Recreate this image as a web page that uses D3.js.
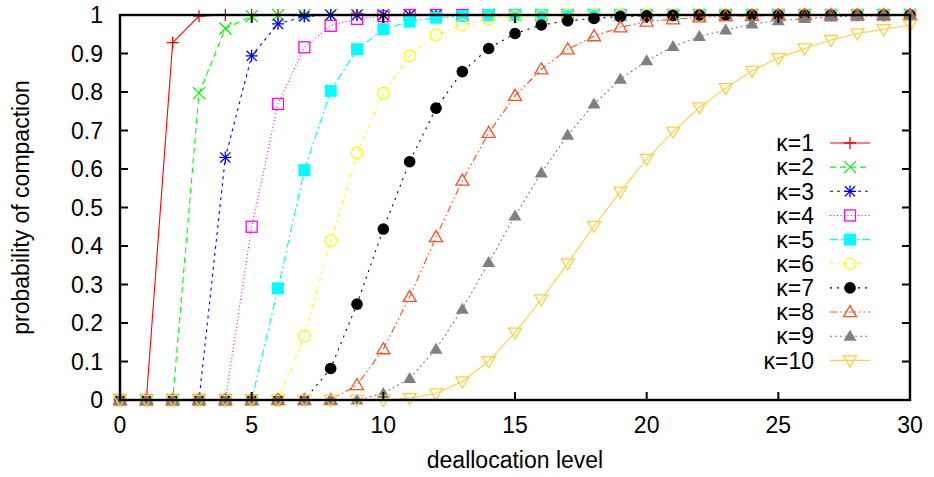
<!DOCTYPE html>
<html>
<head>
<meta charset="utf-8">
<script src="https://cdn.jsdelivr.net/npm/d3@7"></script>
<style>
  html, body { margin: 0; padding: 0; background: #fff; }
  svg { display: block; }
  text { font-family: "Liberation Sans", Arial, Helvetica, sans-serif; fill: #000; }
</style>
</head>
<body>
<svg id="chart" width="934" height="477"></svg>
<script>
// ---- data ----
const xLevels = d3.range(0, 31);
const xTickLabels = ["0", "5", "10", "15", "20", "25", "30"];
const yTickLabels = ["0", "0.1", "0.2", "0.3", "0.4", "0.5", "0.6", "0.7", "0.8", "0.9", "1"];
const seriesNames = ["κ=1", "κ=2", "κ=3", "κ=4", "κ=5", "κ=6", "κ=7", "κ=8", "κ=9", "κ=10"];

const k1 = [0, 0, 0.928, 0.997, 1, 1, 1, 1, 1, 1, 1, 1, 1, 1, 1, 1, 1, 1, 1, 1, 1, 1, 1, 1, 1, 1, 1, 1, 1, 1, 1];
const k2 = [0, 0, 0, 0.797, 0.965, 0.997, 1, 1, 1, 1, 1, 1, 1, 1, 1, 1, 1, 1, 1, 1, 1, 1, 1, 1, 1, 1, 1, 1, 1, 1, 1];
const k3 = [0, 0, 0, 0, 0.630, 0.894, 0.977, 0.996, 1, 1, 1, 1, 1, 1, 1, 1, 1, 1, 1, 1, 1, 1, 1, 1, 1, 1, 1, 1, 1, 1, 1];
const k4 = [0, 0, 0, 0, 0, 0.450, 0.769, 0.916, 0.972, 0.990, 0.997, 1, 1, 1, 1, 1, 1, 1, 1, 1, 1, 1, 1, 1, 1, 1, 1, 1, 1, 1, 1];
const k5 = [0, 0, 0, 0, 0, 0, 0.290, 0.597, 0.803, 0.911, 0.963, 0.983, 0.993, 0.997, 1, 1, 1, 1, 1, 1, 1, 1, 1, 1, 1, 1, 1, 1, 1, 1, 1];
const k6 = [0, 0, 0, 0, 0, 0, 0, 0.166, 0.414, 0.641, 0.797, 0.894, 0.948, 0.974, 0.989, 0.996, 0.998, 1, 1, 1, 1, 1, 1, 1, 1, 1, 1, 1, 1, 1, 1];
const k7 = [0, 0, 0, 0, 0, 0, 0, 0, 0.082, 0.249, 0.444, 0.619, 0.758, 0.853, 0.913, 0.952, 0.974, 0.985, 0.991, 0.996, 0.998, 0.999, 1, 1, 1, 1, 1, 1, 1, 1, 1];
const k8 = [0, 0, 0, 0, 0, 0, 0, 0, 0, 0.039, 0.132, 0.268, 0.423, 0.570, 0.694, 0.790, 0.859, 0.911, 0.945, 0.968, 0.983, 0.989, 0.994, 0.997, 0.998, 0.999, 1, 1, 1, 1, 1];
const k9 = [0, 0, 0, 0, 0, 0, 0, 0, 0, 0, 0.017, 0.056, 0.132, 0.236, 0.357, 0.478, 0.590, 0.688, 0.769, 0.833, 0.881, 0.918, 0.944, 0.961, 0.977, 0.985, 0.991, 0.995, 0.997, 0.998, 0.999];
const k10 = [0, 0, 0, 0, 0, 0, 0, 0, 0, 0, 0, 0.005, 0.017, 0.048, 0.101, 0.175, 0.261, 0.355, 0.452, 0.541, 0.626, 0.697, 0.760, 0.810, 0.855, 0.888, 0.913, 0.935, 0.952, 0.963, 0.974];

const allValues = [k1, k2, k3, k4, k5, k6, k7, k8, k9, k10];

// ---- styles ----
const colors = ["#ff0000", "#00ff00", "#0000ff", "#ff00ff", "#00ffff", "#ffff00", "#000000", "#ff5020", "#808080", "#ffd040"];
const dashes = [null, "6,4", "3,4", "1,2.5", "8,3,2,3", "4,4,1.5,4", "2,5", "7,3,1.5,3,1.5,3", "2,3", null];
const markers = ["plus", "cross", "star", "square", "squareFill", "circle", "circleFill", "tri", "triFill", "triDown"];

const W = 934, H = 477;
const M = { left: 120, right: 24, top: 15, bottom: 77 };
const FONT = 23;

const svg = d3.select("#chart");
const x = d3.scaleLinear().domain([0, 30]).range([M.left, W - M.right]);
const y = d3.scaleLinear().domain([0, 1]).range([H - M.bottom, M.top]);

function drawMarker(g, type, cx, cy, color) {
  const s = 6;
  const sw = 1.3;
  if (type === "plus" || type === "star") {
    g.append("path").attr("d", `M${cx - s},${cy}H${cx + s}M${cx},${cy - s}V${cy + s}`)
      .attr("stroke", color).attr("stroke-width", sw).attr("fill", "none");
  }
  if (type === "cross" || type === "star") {
    const d = type === "star" ? s * 0.85 : s;
    g.append("path").attr("d", `M${cx - d},${cy - d}L${cx + d},${cy + d}M${cx - d},${cy + d}L${cx + d},${cy - d}`)
      .attr("stroke", color).attr("stroke-width", sw).attr("fill", "none");
  }
  if (type === "square" || type === "squareFill") {
    const r = type === "square" ? 5.5 : 6;
    g.append("rect").attr("x", cx - r).attr("y", cy - r).attr("width", 2 * r).attr("height", 2 * r)
      .attr("fill", type === "squareFill" ? color : "none")
      .attr("stroke", type === "squareFill" ? "none" : color).attr("stroke-width", sw);
  }
  if (type === "circle") {
    g.append("circle").attr("cx", cx).attr("cy", cy).attr("r", 5.8)
      .attr("fill", "none").attr("stroke", color).attr("stroke-width", sw);
  }
  if (type === "circleFill") {
    g.append("circle").attr("cx", cx).attr("cy", cy).attr("r", 5.8).attr("fill", color);
  }
  if (type === "tri" || type === "triFill") {
    const h = 6.5;
    g.append("path").attr("d", `M${cx},${cy - h}L${cx + h},${cy + h * 0.7}L${cx - h},${cy + h * 0.7}Z`)
      .attr("fill", type === "triFill" ? color : "none")
      .attr("stroke", type === "triFill" ? "none" : color).attr("stroke-width", sw);
  }
  if (type === "triDown") {
    const h = 6.5;
    g.append("path").attr("d", `M${cx},${cy + h}L${cx + h},${cy - h * 0.7}L${cx - h},${cy - h * 0.7}Z`)
      .attr("fill", "none").attr("stroke", color).attr("stroke-width", sw);
  }
}

// ---- data series ----
const line = d3.line().x((d, i) => x(xLevels[i])).y(d => y(d));
const plot = svg.append("g");
allValues.forEach((vals, si) => {
  const g = plot.append("g");
  g.append("path").attr("d", line(vals))
    .attr("fill", "none").attr("stroke", colors[si]).attr("stroke-width", 1.1)
    .attr("stroke-dasharray", dashes[si]);
  vals.forEach((v, i) => drawMarker(g, markers[si], x(xLevels[i]), y(v), colors[si]));
});

// ---- axes / border ----
const axG = svg.append("g");
const xTickVals = xTickLabels.map(Number);
const yTickVals = yTickLabels.map(Number);
const TL = 8;
xTickVals.forEach(v => {
  axG.append("line").attr("x1", x(v)).attr("x2", x(v)).attr("y1", y(0)).attr("y2", y(0) - TL)
    .attr("stroke", "#000").attr("stroke-width", 2);
  axG.append("line").attr("x1", x(v)).attr("x2", x(v)).attr("y1", y(1)).attr("y2", y(1) + TL)
    .attr("stroke", "#000").attr("stroke-width", 2);
});
yTickVals.forEach(v => {
  axG.append("line").attr("x1", x(0)).attr("x2", x(0) + TL).attr("y1", y(v)).attr("y2", y(v))
    .attr("stroke", "#000").attr("stroke-width", 2);
  axG.append("line").attr("x1", x(30)).attr("x2", x(30) - TL).attr("y1", y(v)).attr("y2", y(v))
    .attr("stroke", "#000").attr("stroke-width", 2);
});
axG.append("rect").attr("x", x(0)).attr("y", y(1)).attr("width", x(30) - x(0)).attr("height", y(0) - y(1))
  .attr("fill", "none").attr("stroke", "#000").attr("stroke-width", 2.4);

// tick labels
xTickLabels.forEach((lab, i) => {
  svg.append("text").attr("x", x(xTickVals[i])).attr("y", y(0) + 33)
    .attr("text-anchor", "middle").attr("font-size", FONT).text(lab);
});
yTickLabels.forEach((lab, i) => {
  svg.append("text").attr("x", x(0) - 17).attr("y", y(yTickVals[i])).attr("dy", "0.36em")
    .attr("text-anchor", "end").attr("font-size", FONT).text(lab);
});

// axis titles
svg.append("text").attr("x", (x(0) + x(30)) / 2).attr("y", 468)
  .attr("text-anchor", "middle").attr("font-size", FONT).text("deallocation level");
svg.append("text").attr("transform", `translate(29,${(y(0) + y(1)) / 2}) rotate(-90)`)
  .attr("text-anchor", "middle").attr("font-size", FONT).text("probability of compaction");

// ---- legend ----
const leg = svg.append("g");
seriesNames.forEach((name, i) => {
  const ly = 143 + 24.15 * i;
  leg.append("text").attr("x", 814).attr("y", ly).attr("dy", "0.36em")
    .attr("text-anchor", "end").attr("font-size", FONT).text(name);
  leg.append("line").attr("x1", 830).attr("x2", 870).attr("y1", ly).attr("y2", ly)
    .attr("stroke", colors[i]).attr("stroke-width", 1.1).attr("stroke-dasharray", dashes[i]);
  drawMarker(leg, markers[i], 850, ly, colors[i]);
});
</script>
</body>
</html>
